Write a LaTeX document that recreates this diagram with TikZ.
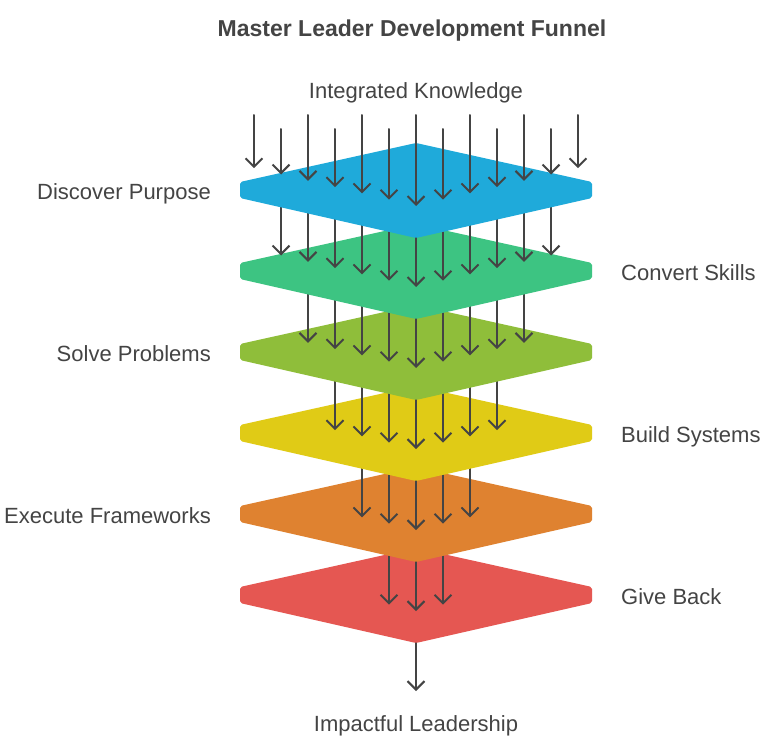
\documentclass[tikz,border=0pt]{standalone}
\usepackage{fontspec}
\setmainfont{Liberation Sans}
\usetikzlibrary{arrows.meta}
\definecolor{txt}{RGB}{68,68,68}
\definecolor{L0}{RGB}{31,170,218}
\definecolor{L1}{RGB}{61,196,130}
\definecolor{L2}{RGB}{143,190,58}
\definecolor{L3}{RGB}{224,203,22}
\definecolor{L4}{RGB}{223,130,48}
\definecolor{L5}{RGB}{229,87,82}
\tikzset{
  flow/.style={draw=txt, line width=2pt, line cap=round,
    -{Straight Barb[length=8.5pt,width=17pt,line width=2pt]}},
  layer/.style={rounded corners=2pt},
  lbl/.style={text=txt, font=\fontsize{22}{26}\selectfont, inner sep=0pt},
  ttl/.style={text=txt, font=\fontsize{23}{28}\selectfont\bfseries, inner sep=0pt}
}
\begin{document}
\begin{tikzpicture}[x=1pt,y=-1pt]
\useasboundingbox (0,0) rectangle (768,744);
\fill[white] (0,0) rectangle (768,744);
% final arrow
\coordinate (fs) at (416,620);
\coordinate (fe) at (416,691);
\draw[flow] (fs) -- (fe);
\foreach \n/\c/\kk in {5/L5/1,4/L4/2,3/L3/3,2/L2/4,1/L1/5,0/L0/6}{
  \pgfmathsetmacro{\d}{81*\n}
  \fill[\c,layer] (416,143+\d) -- (592,182+\d) -- (592,198+\d) -- (416,238+\d)
     -- (240,198+\d) -- (240,182+\d) -- cycle;
  \foreach \k in {-\kk,...,\kk}{
    \pgfmathsetmacro{\xx}{416+27*\k}
    \pgfmathsetmacro{\tip}{206+\d-6.3*abs(\k)}
    \pgfmathsetmacro{\st}{ifthenelse(\n==0, ifthenelse(mod(abs(\k),2)==0,115,129), 190+\d-81)}
    \coordinate (s) at (\xx,\st);
    \coordinate (e) at (\xx,\tip);
    \draw[flow] (s) -- (e);
  }
}
\node[ttl,anchor=base] (title) at (412,36) {Master Leader Development Funnel};
\node[lbl,anchor=base] (in) at (416,98) {Integrated Knowledge};
\node[lbl,anchor=base] (out) at (416,731) {Impactful Leadership};
\node[lbl,anchor=base east] (l0) at (211,199) {Discover Purpose};
\node[lbl,anchor=base west] (l1) at (621,280) {Convert Skills};
\node[lbl,anchor=base east] (l2) at (211,361) {Solve Problems};
\node[lbl,anchor=base west] (l3) at (621,442) {Build Systems};
\node[lbl,anchor=base east] (l4) at (211,523) {Execute Frameworks};
\node[lbl,anchor=base west] (l5) at (621,604) {Give Back};
\end{tikzpicture}
\end{document}
